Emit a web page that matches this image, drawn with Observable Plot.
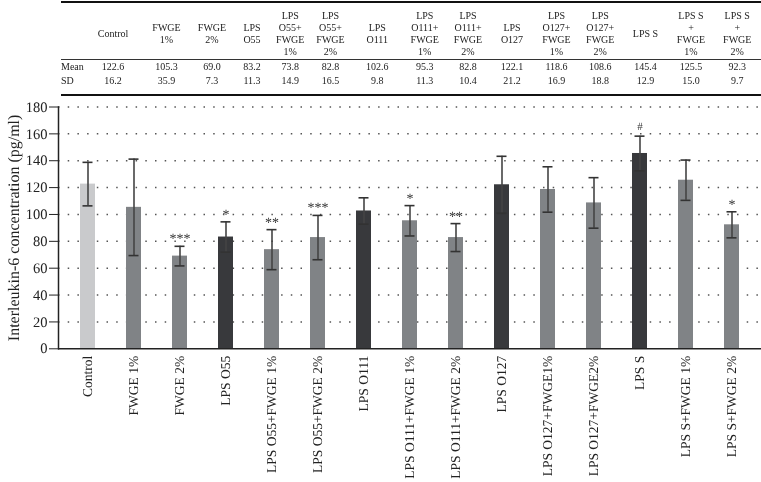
<!DOCTYPE html>
<html><head><meta charset="utf-8">
<script src="https://cdn.jsdelivr.net/npm/d3@7"></script>
<script src="https://cdn.jsdelivr.net/npm/@observablehq/plot@0.6"></script>
<style>
body{margin:0;background:#fff;font-family:"Liberation Serif",serif;color:#222}
#wrap{position:relative;width:761px;height:482px;overflow:hidden;background:#fff}
#tbl{position:absolute;left:61px;top:1px;width:700px;border-collapse:collapse;table-layout:fixed;font-size:10px;line-height:12px;color:#222;will-change:transform}
#tbl td{padding:0;text-align:center;white-space:nowrap;overflow:visible;font-weight:normal}
#tbl tr.h td{height:50px;padding-top:6px;vertical-align:middle;border-top:2px solid #111;border-bottom:1px solid #333}
#tbl tr.m td{height:14px;vertical-align:middle}
#tbl tr.s td{height:19px;vertical-align:top;padding-top:1px;border-bottom:2px solid #111}
#tbl td.lab{text-align:left}
#chart{position:absolute;left:0;top:97px;will-change:transform}
#chart text{text-rendering:geometricPrecision}
</style>
</head><body>
<div id="wrap">
<table id="tbl"></table>
<div id="chart"></div>
</div>
<script>
const groups = ["Control","FWGE 1%","FWGE 2%","LPS O55","LPS O55+FWGE 1%","LPS O55+FWGE 2%","LPS O111","LPS O111+FWGE 1%","LPS O111+FWGE 2%","LPS O127","LPS O127+FWGE1%","LPS O127+FWGE2%","LPS S","LPS S+FWGE 1%","LPS S+FWGE 2%"];
const headers = ["Control","FWGE\n1%","FWGE\n2%","LPS\nO55","LPS\nO55+\nFWGE\n1%","LPS\nO55+\nFWGE\n2%","LPS\nO111","LPS\nO111+\nFWGE\n1%","LPS\nO111+\nFWGE\n2%","LPS\nO127","LPS\nO127+\nFWGE\n1%","LPS\nO127+\nFWGE\n2%","LPS S","LPS S\n+\nFWGE\n1%","LPS S\n+\nFWGE\n2%"];
const means = [122.6,105.3,69.0,83.2,73.8,82.8,102.6,95.3,82.8,122.1,118.6,108.6,145.4,125.5,92.3];
const sds = [16.2,35.9,7.3,11.3,14.9,16.5,9.8,11.3,10.4,21.2,16.9,18.8,12.9,15.0,9.7];
const types = ["control","fwge","fwge","lps","fwge","fwge","lps","fwge","fwge","lps","fwge","fwge","lps","fwge","fwge"];
const sig = ["","","***","*","**","***","","*","**","","","","#","","*"];
const rowLabels = ["Mean","SD"];
const yTicks = [0,20,40,60,80,100,120,140,160,180];

// table column widths (layout)
const colW = [23.5,57,50,41,39,37.5,43,50.5,44.5,42,46,43,44.5,46,45,47.5];

const tbl = document.getElementById("tbl");
const cg = document.createElement("colgroup");
colW.forEach(w => { const c = document.createElement("col"); c.style.width = w + "px"; cg.appendChild(c); });
tbl.appendChild(cg);
function addRow(cls, label, cells) {
  const tr = document.createElement("tr"); tr.className = cls;
  const l = document.createElement("td"); l.className = "lab"; l.textContent = label; tr.appendChild(l);
  cells.forEach(t => { const td = document.createElement("td"); td.innerHTML = String(t).split("\n").join("<br>"); tr.appendChild(td); });
  tbl.appendChild(tr);
}
addRow("h", "", headers);
addRow("m", rowLabels[0], means.map(v => v.toFixed(1)));
addRow("s", rowLabels[1], sds.map(v => v.toFixed(1)));

const rows = groups.map((g, i) => ({group: g, mean: means[i], sd: sds[i], lo: means[i] - sds[i], hi: means[i] + sds[i], type: types[i], sig: sig[i]}));

const chart = Plot.plot({
  width: 761, height: 385,
  marginLeft: 58, marginRight: 0, marginTop: 9.5, marginBottom: 133.7,
  style: {fontFamily: "Liberation Serif, serif", color: "#222", background: "#fff"},
  x: {domain: groups, paddingInner: 0.68, paddingOuter: 0.35, label: null},
  y: {domain: [0, 180], label: null},
  color: {domain: ["control","fwge","lps"], range: ["#c9cacc","#808386","#38393c"]},
  marks: [
    Plot.gridY(yTicks.filter(d => d > 0), {stroke: "#555", strokeOpacity: 1, strokeDasharray: "1.5,8.2", strokeWidth: 1.5}),
    Plot.barY(rows, {x: "group", y: "mean", fill: "type"}),
    Plot.ruleX(rows, {x: "group", y1: "lo", y2: "hi", stroke: "#444", strokeWidth: 1.6}),
    Plot.tickY(rows, {x: "group", y: "hi", stroke: "#333", strokeWidth: 1.6, insetLeft: 2.5, insetRight: 2.5}),
    Plot.tickY(rows, {x: "group", y: "lo", stroke: "#333", strokeWidth: 1.6, insetLeft: 2.5, insetRight: 2.5}),
    Plot.text(rows.filter(d => d.sig && d.sig !== "#"), {x: "group", y: "hi", text: "sig", dy: -3, lineAnchor: "bottom", fill: "#333333", fontSize: 14}),
    Plot.text(rows.filter(d => d.sig === "#"), {x: "group", y: "hi", text: "sig", dy: -6, lineAnchor: "bottom", fill: "#333333", fontSize: 11}),
    Plot.axisY({ticks: yTicks, tickSize: 9, tickPadding: 2, fontSize: 14.5, label: null, stroke: "#222"}),
    Plot.axisY({ticks: [], tickSize: 0, label: "Interleukin-6 concentration (pg/ml)", labelArrow: "none", labelAnchor: "center", labelOffset: 51, fontSize: 16}),
    Plot.axisX({tickRotate: -90, tickSize: 0, tickPadding: 7, fontSize: 13.5, label: null}),
    Plot.frame({anchor: "left", stroke: "#222", strokeWidth: 1.5}),
    Plot.ruleY([0], {stroke: "#222", strokeWidth: 1.5})
  ]
});
document.getElementById("chart").appendChild(chart);
</script>
</body></html>
